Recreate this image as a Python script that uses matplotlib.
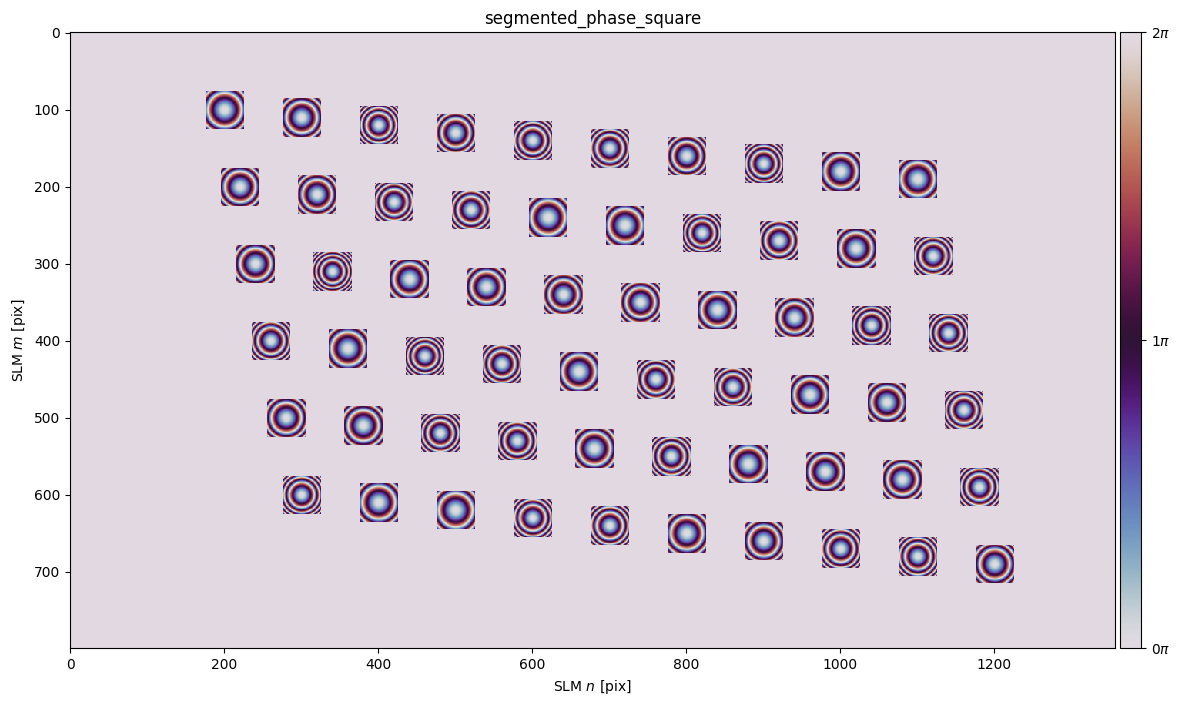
import numpy as np
import matplotlib
matplotlib.use('Agg')
import matplotlib.pyplot as plt

# SLM panel size
slm_n = 1357
slm_m = 800
seg_size = 50

# Segment grid, the first segment of each row and the offsets along a row
row_n = [200, 220, 240, 260, 280, 300]
row_m = [100, 200, 300, 400, 500, 600]
col_dn = [0, 100, 200, 300, 400, 500, 600, 700, 800, 900]
col_dm = [0, 10, 20, 30, 40, 50, 60, 70, 80, 90]

# Radius in SLM pixels of the first pi ring of each segment
ring_row0 = [15.4, 14.0, 11.3, 12.9, 11.7, 12.1, 12.9, 11.4, 14.6, 15.0]
ring_row1 = [14.0, 13.4, 11.8, 12.2, 15.4, 15.0, 11.3, 12.5, 14.3, 11.8]
ring_row2 = [14.0, 10.6, 14.3, 14.0, 13.3, 13.3, 14.6, 13.3, 11.5, 11.7]
ring_row3 = [12.1, 15.0, 11.1, 12.0, 15.0, 12.2, 11.9, 14.3, 14.0, 11.7]
ring_row4 = [13.7, 14.0, 11.7, 12.0, 14.6, 12.0, 15.0, 14.3, 13.7, 11.8]
ring_row5 = [11.5, 15.0, 15.4, 11.8, 12.0, 14.6, 13.7, 12.2, 11.8, 13.7]
ring_radius = [ring_row0, ring_row1, ring_row2, ring_row3, ring_row4, ring_row5]

# Fill the phase map, every segment holds its own wrapped lens
phase = np.zeros((slm_m, slm_n))
half = seg_size // 2
for i in range(len(row_n)):
    for j in range(len(col_dn)):
        cn = row_n[i] + col_dn[j]
        cm = row_m[i] + col_dm[j]
        nn, mm = np.meshgrid(np.arange(cn - half + 1, cn + half + 1),
                             np.arange(cm - half + 1, cm + half + 1))
        r2 = (nn - cn - 0.5)**2 + (mm - cm - 0.5)**2
        phase[mm, nn] = np.mod(np.pi * r2 / ring_radius[i][j]**2, 2 * np.pi)

fig = plt.figure(figsize=(11.8, 7.05), dpi=100)
ax = fig.add_axes([70.0 / 1180, 1 - 648.3 / 705, 1044.9 / 1180, 616 / 705])
im = ax.imshow(phase, cmap='twilight', vmin=0, vmax=2 * np.pi, aspect='equal',
               interpolation='nearest')
ax.set_title('segmented_phase_square')
ax.set_xlabel('SLM $n$ [pix]')
ax.set_ylabel('SLM $m$ [pix]')

# Colorbar labelled in units of pi
cax = fig.add_axes([1120 / 1180, 1 - 648.3 / 705, 21 / 1180, 616 / 705])
cbar = fig.colorbar(im, cax=cax, ticks=[0, np.pi, 2 * np.pi])
cbar.ax.set_yticklabels(['$0\\pi$', '$1\\pi$', '$2\\pi$'])

plt.savefig('out.png', dpi=100)
